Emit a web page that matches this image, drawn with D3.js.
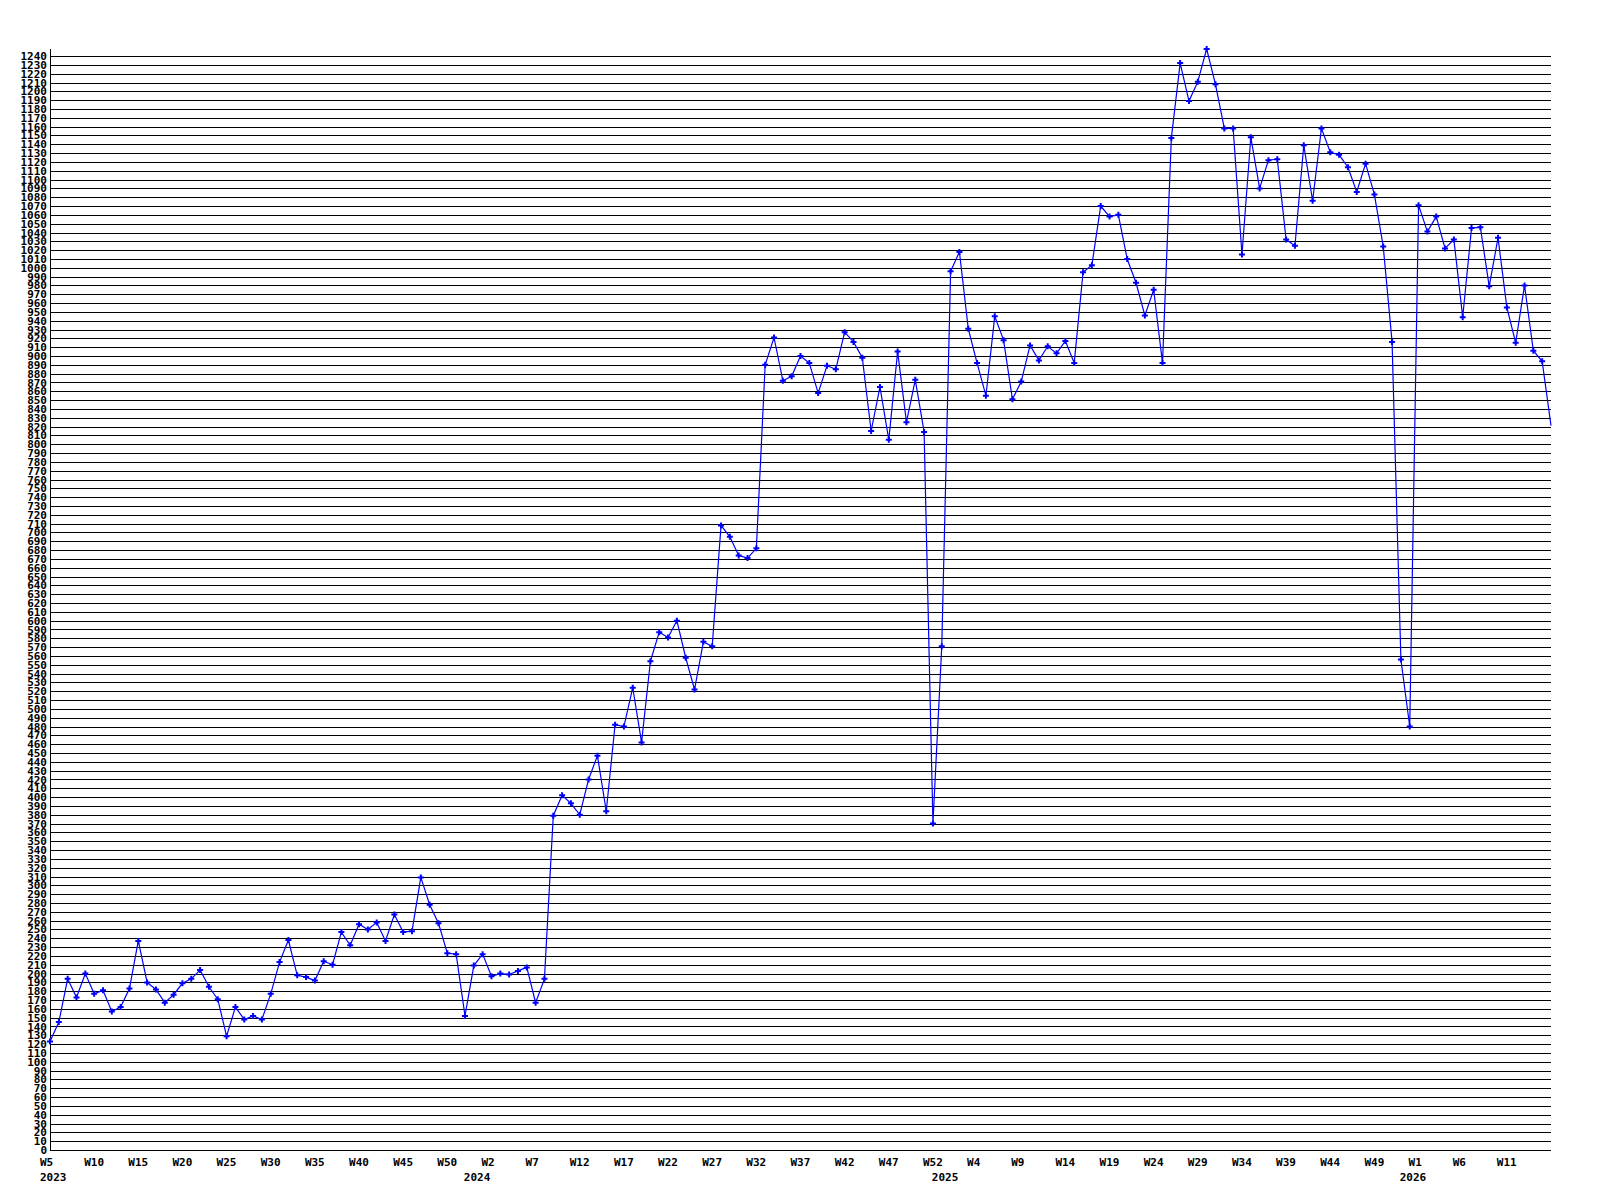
<!DOCTYPE html>
<html>
<head>
<meta charset="utf-8">
<script src="https://cdn.jsdelivr.net/npm/d3@7"></script>
<style>
  html, body { margin: 0; padding: 0; background: #ffffff; }
  svg text { font-family: "DejaVu Sans Mono", "Liberation Mono", monospace; font-weight: bold; font-size: 11px; fill: #000; }
</style>
</head>
<body>
<svg id="chart" width="1600" height="1200"></svg>
<script>
// Weekly values, 2023 W5 ... 2026 W16 (one value per week)
const values = [
  123, 145, 194, 173, 200, 177, 181, 157, 162, 183,
  237, 190, 182, 167, 176, 189, 194, 204, 185, 171,
  129, 162, 148, 152, 148, 177, 213, 238, 198, 196,
  192, 214, 210, 247, 232, 256, 250, 258, 237, 267,
  247, 248, 309, 278, 257, 223, 222, 152, 209, 222,
  197, 200, 199, 203, 207, 167, 194, 379, 402, 393,
  380, 420, 447, 384, 482, 480, 524, 462, 554, 587,
  581, 600, 558, 522, 576, 571, 708, 695, 674, 671,
  682, 890, 921, 872, 877, 900, 892, 858, 889, 885,
  927, 916, 898, 815, 865, 805, 905, 825, 873, 814,
  370, 571, 996, 1018, 931, 892, 855, 945, 918, 851,
  871, 912, 895, 911, 903, 917, 892, 995, 1003, 1070,
  1058, 1060, 1010, 983, 946, 975, 892, 1147, 1232, 1189,
  1211, 1248, 1208, 1158, 1158, 1015, 1148, 1090, 1122, 1123,
  1032, 1025, 1139, 1076, 1158, 1131, 1128, 1114, 1086, 1118,
  1083, 1024, 916, 556, 480, 1071, 1041, 1058, 1022, 1032,
  944, 1045, 1046, 979, 1034, 955, 915, 980, 906, 894,
  821
];

// X tick labels (one every 5 weeks)
const weekLabels = [
  "W5","W10","W15","W20","W25","W30","W35","W40","W45","W50",
  "W2","W7","W12","W17","W22","W27","W32","W37","W42","W47","W52",
  "W4","W9","W14","W19","W24","W29","W34","W39","W44","W49",
  "W1","W6","W11"
];
const weekLabelStep = 5;

// Year labels and the week index where each year starts
const yearLabels = ["2023", "2024", "2025", "2026"];
const yearIndex = [0, 48, 101, 154];

// Y tick values
const yTicks = d3.range(0, 1241, 10);

const svg = d3.select("#chart");
const mLeft = 50, mRight = 1551, mTop = 49, mBottom = 1150;

const x = d3.scaleLinear().domain([0, values.length - 1]).range([mLeft, mRight]);
const y = d3.scaleLinear().domain([0, d3.max(values)]).range([mBottom, mTop]);

// Y axis with full-width gridlines
const yAxis = d3.axisLeft(y)
  .tickValues(yTicks)
  .tickSize(-(mRight - mLeft))
  .tickPadding(3)
  .tickFormat(d3.format("d"));

const gy = svg.append("g")
  .attr("transform", `translate(${mLeft},0)`)
  .call(yAxis);
gy.select(".domain").remove();
gy.selectAll(".tick line")
  .attr("stroke", "#000")
  .attr("stroke-width", 1)
  .attr("shape-rendering", "crispEdges");
gy.selectAll(".tick text")
  .attr("fill", "#000")
  .style("font-family", "'DejaVu Sans Mono', monospace")
  .style("font-weight", "bold")
  .style("font-size", "11px");

// Vertical axis line
svg.append("line")
  .attr("x1", mLeft).attr("x2", mLeft)
  .attr("y1", mTop).attr("y2", mBottom)
  .attr("stroke", "#000")
  .attr("shape-rendering", "crispEdges");

// X week labels
svg.append("g")
  .selectAll("text")
  .data(weekLabels)
  .join("text")
  .attr("x", (d, i) => x(i * weekLabelStep) - 10)
  .attr("y", 1166)
  .attr("text-anchor", "start")
  .text(d => d);

// Year labels
svg.append("g")
  .selectAll("text")
  .data(yearLabels)
  .join("text")
  .attr("x", (d, i) => x(yearIndex[i]) - 10)
  .attr("y", 1181)
  .attr("text-anchor", "start")
  .text(d => d);

// Line
const line = d3.line()
  .x((d, i) => x(i))
  .y(d => y(d));

svg.append("path")
  .datum(values)
  .attr("d", line)
  .attr("fill", "none")
  .attr("stroke", "#0000ff")
  .attr("stroke-width", 1.2);

// Markers
svg.append("g")
  .selectAll("path")
  .data(values.slice(0, values.length - 1))
  .join("path")
  .attr("transform", (d, i) => `translate(${x(i)},${y(d)})`)
  .attr("d", d3.symbol().type(d3.symbolCross).size(20))
  .attr("fill", "#0000ff");
</script>
</body>
</html>
